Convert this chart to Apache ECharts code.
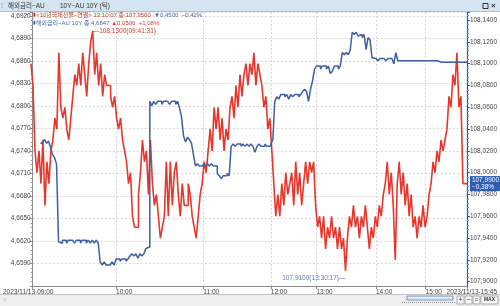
<!DOCTYPE html>
<html><head><meta charset="utf-8">
<script src="https://cdn.jsdelivr.net/npm/echarts@6/dist/echarts.min.js"></script>
<style>html,body{margin:0;padding:0;background:#fff}#c{width:500px;height:306px}</style>
</head><body><div id="c"></div>
<script>
// ---- data ----
const tickLabels = ['2023/11/13-09:00','10:00','11:00','12:00','13:00','14:00','15:00','2023/11/13-15:45'];
const tickIndex  = [0, 42, 86, 120, 143, 173, 198, 219];
// 10년국채선물-연결 (right axis)
const ktbFut = [
108.10,108.08,108.02,108.00,108.02,107.99,108.03,107.97,108.01,107.99,
108.02,108.03,108.05,108.04,108.11,108.06,108.05,108.06,108.04,108.03,
108.05,108.07,108.09,108.08,108.10,108.08,108.11,108.09,108.07,108.10,
108.12,108.13,108.09,108.11,108.08,108.10,108.07,108.09,108.08,108.08,
108.07,108.06,108.07,108.05,108.04,108.05,108.03,108.02,108.01,107.99,
108.00,107.96,107.95,107.95,107.98,108.00,108.03,108.01,108.02,107.98,
108.03,107.99,107.97,107.98,107.96,107.94,107.95,107.96,108.01,107.96,
108.01,107.97,108.00,108.01,107.98,107.96,107.99,107.97,107.97,107.99,
107.98,107.96,107.95,107.94,107.96,107.98,107.99,108.01,108.00,108.02,
108.04,108.02,108.06,108.04,108.06,108.03,108.05,108.02,108.04,108.03,
108.06,108.07,108.05,108.08,108.06,108.09,108.07,108.09,108.10,108.08,
108.10,108.09,108.11,108.08,108.10,108.09,108.08,108.06,108.07,108.04,
108.05,108.02,107.99,107.96,107.98,107.96,107.99,107.97,108.00,107.98,
107.99,108.00,107.97,108.01,107.98,108.00,107.97,107.99,108.01,107.99,
108.01,108.00,108.01,107.97,107.95,107.96,107.94,107.96,107.93,107.95,
107.94,107.96,107.94,107.95,107.93,107.95,107.93,107.94,107.91,107.94,
107.96,107.95,107.97,107.95,107.96,107.94,107.96,107.95,107.97,107.95,
107.93,107.95,107.94,107.96,107.95,107.97,107.96,107.98,107.99,108.01,
107.98,108.00,107.97,107.92,107.99,108.01,107.98,108.00,107.97,107.99,
107.96,107.98,107.95,107.96,107.94,107.96,107.95,107.97,107.95,107.96,
107.98,107.99,108.01,108.00,108.02,108.01,108.03,108.02,108.03,108.04,
108.07,108.06,108.09,108.08,108.11,108.06,108.07,107.99,107.99,107.99];
// 해외금리-AU 10Y (left axis)
const au10y = [
null,null,null,null,4.6749,4.6752,4.6755,4.6750,4.6753,4.6744,
4.6735,4.6731,4.6722,4.6619,4.6617,4.6621,4.6621,4.6617,4.6621,4.6621,
4.6621,4.6617,4.6621,4.6621,4.6617,4.6621,4.6621,4.6617,4.6621,4.6617,
4.6621,4.6617,4.6621,4.6617,4.6592,4.6588,4.6592,4.6588,4.6588,4.6588,
4.6592,4.6588,4.6596,4.6596,4.6593,4.6596,4.6596,4.6593,4.6596,4.6600,
4.6603,4.6600,4.6603,4.6597,4.6603,4.6600,4.6603,4.6610,4.6612,4.6806,
4.6800,4.6806,4.6802,4.6806,4.6806,4.6802,4.6806,4.6806,4.6806,4.6802,
4.6806,4.6806,4.6802,4.6806,4.6797,4.6785,4.6760,4.6752,4.6758,4.6755,
4.6750,4.6735,4.6720,4.6723,4.6720,4.6720,4.6723,4.6720,4.6723,4.6720,
4.6723,4.6720,4.6720,4.6710,4.6707,4.6703,4.6707,4.6707,4.6710,4.6707,
4.6746,4.6749,4.6746,4.6749,4.6749,4.6746,4.6749,4.6746,4.6749,4.6746,
4.6749,4.6746,4.6738,4.6746,4.6749,4.6746,4.6746,4.6749,4.6746,4.6746,
4.6749,4.6755,4.6806,4.6812,4.6809,4.6815,4.6815,4.6812,4.6815,4.6809,
4.6815,4.6812,4.6815,4.6815,4.6812,4.6815,4.6819,4.6822,4.6819,4.6806,
4.6822,4.6833,4.6849,4.6853,4.6853,4.6849,4.6853,4.6853,4.6849,4.6853,
4.6843,4.6846,4.6853,4.6853,4.6849,4.6853,4.6871,4.6868,4.6871,4.6868,
4.6874,4.6898,4.6895,4.6898,4.6893,4.6895,4.6891,4.6895,4.6875,4.6891,
4.6888,4.6864,4.6863,4.6863,4.6860,4.6863,4.6863,4.6863,4.6860,4.6863,
4.6863,4.6863,4.6856,4.6871,4.6860,4.6860,4.6860,4.6860,4.6860,4.6860,
4.6860,4.6860,4.6860,4.6860,4.6860,4.6860,4.6860,4.6860,4.6860,4.6860,
4.6860,4.6860,4.6860,4.6860,4.6860,4.6858,4.6858,4.6858,4.6858,4.6858,
4.6858,4.6858,4.6858,4.6858,4.6858,4.6858,4.6858,4.6858,4.6858,4.6858];
const maxNote = {idx: 31, value: 108.13, text: '108,1300(09:41:31)'};
const minNote = {idx: 158, value: 107.91, text: '107,9100(13:30:17)'};
const lastNote = {value: 107.99, text: '107,9900', chg: '−0,38%'};

// ---- chart ----
const FONT = "'Liberation Sans',Arial,sans-serif";
const KFONT = "'Liberation Sans','Noto Sans CJK KR',sans-serif";
const FS = 6.5;
const cats = ktbFut.map((_, i) => String(i));
const isTick = (i) => tickIndex.indexOf(i) >= 0;
const fmt4 = (v) => v.toFixed(4).replace('.', ',');
const RED = '#e8362c', BLUE = '#3c5fa6';
const gridC = '#d8d8d8';

const chart = echarts.init(document.getElementById('c'), null, {renderer: 'canvas'});
chart.setOption({
  animation: false,
  backgroundColor: '#fff',
  grid: [
    {left: 31, right: 31, top: 12, bottom: 20},
    {left: 31, right: 31, top: 12, bottom: 24.3}
  ],
  xAxis: [
    {type: 'category', gridIndex: 0, data: cats, boundaryGap: false,
     axisLine: {lineStyle: {color: '#8a8a8a'}},
     axisTick: {interval: (i) => isTick(i), length: 3, lineStyle: {color: '#8a8a8a'}},
     axisLabel: {interval: (i) => isTick(i), margin: 3, fontSize: FS, color: '#444', fontFamily: FONT,
                 align: 'left', alignMinLabel: 'center', alignMaxLabel: 'center',
                 formatter: (v) => {
                   const k = tickIndex.indexOf(+v);
                   if (k < 0) return '';
                   if (k === 0) return '{s|' + tickLabels[k] + '}';
                   if (k === tickLabels.length - 1) return '{e|' + tickLabels[k] + '}';
                   return tickLabels[k];
                 },
                 rich: {s: {fontSize: FS, color: '#444', fontFamily: FONT, padding: [0, 9, 0, 0]},
                        e: {fontSize: FS, color: '#444', fontFamily: FONT, padding: [0, 0, 0, 9]}}},
     splitLine: {show: true, interval: (i) => isTick(i) && i > 0 && i < cats.length - 1,
                 lineStyle: {color: gridC, type: [2, 2]}}},
    {type: 'category', gridIndex: 1, data: cats, boundaryGap: false, show: false}
  ],
  yAxis: [
    {type: 'value', gridIndex: 0, position: 'left', min: 4.656, max: 4.6925, interval: 0.003,
     axisLine: {show: true, lineStyle: {color: '#8a8a8a'}},
     axisTick: {show: true, length: 3, lineStyle: {color: '#8a8a8a'}},
     minorTick: {show: true, splitNumber: 5, length: 2, lineStyle: {color: '#9a9a9a'}},
     axisLabel: {fontSize: FS, color: '#444', margin: 2, fontFamily: FONT, showMinLabel: false, showMaxLabel: false,
                 formatter: fmt4},
     splitLine: {show: true, lineStyle: {color: gridC, type: [2, 2]}}},
    {type: 'value', gridIndex: 0, position: 'right', min: 0, max: 1,
     axisLine: {show: true, lineStyle: {color: '#2a56a8', width: 1.2}},
     axisTick: {show: false}, axisLabel: {show: false}, splitLine: {show: false}},
    {type: 'value', gridIndex: 1, position: 'right', min: 107.90, max: 108.1474, interval: 0.02,
     axisLine: {show: false},
     axisTick: {show: true, length: 3, lineStyle: {color: '#2a56a8'}},
     minorTick: {show: true, splitNumber: 5, length: 2, lineStyle: {color: '#6f8cc4'}},
     axisLabel: {fontSize: FS, color: '#444', margin: 3, fontFamily: FONT, showMaxLabel: false,
                 formatter: fmt4},
     splitLine: {show: false}}
  ],
  series: [
    {name: '10년국채선물-연결', type: 'line', xAxisIndex: 1, yAxisIndex: 2, data: ktbFut, step: 'end',
     showSymbol: false, z: 2, lineStyle: {color: RED, width: 1.6}, itemStyle: {color: RED},
     markPoint: {symbol: 'circle', symbolSize: 0, silent: true,
       data: [
         {coord: [String(maxNote.idx), maxNote.value],
          label: {show: true, position: 'right', distance: 0, formatter: '—' + maxNote.text,
                  fontSize: FS, color: '#d8382f', fontFamily: FONT}},
         {coord: [String(minNote.idx), minNote.value],
          label: {show: true, position: 'left', distance: 0, offset: [0, 7], formatter: minNote.text + '—',
                  fontSize: FS, color: '#5b78b2', fontFamily: FONT}},
         {coord: [String(ktbFut.length - 1), lastNote.value],
          label: {show: true, position: 'right', distance: 3, formatter: lastNote.text + '\n' + lastNote.chg,
                  fontSize: FS, lineHeight: 7, color: '#fff', backgroundColor: '#2e5cb0', padding: [1, 2, 0, 2],
                  fontFamily: FONT}}
       ]}},
    {name: '해외금리-AU 10Y', type: 'line', xAxisIndex: 0, yAxisIndex: 0, data: au10y, step: 'end',
     showSymbol: false, z: 3, lineStyle: {color: BLUE, width: 1.5}, itemStyle: {color: BLUE}}
  ],
  graphic: [
    {type: 'rect', shape: {x: 0, y: 0, width: 500, height: 11}, style: {fill: '#d5e4f1'}, z: 10},
    {type: 'line', shape: {x1: 0, y1: 11.5, x2: 500, y2: 11.5}, style: {stroke: '#a9c1d8', lineWidth: 1}, z: 10},
    {type: 'text', x: 1, y: 6, style: {text: '⁝', fontSize: 7, fill: '#777', verticalAlign: 'middle'}, z: 11},
    {type: 'text', x: 8, y: 6, style: {text: '해외금리−AU', font: '6.5px ' + KFONT, fill: '#333', verticalAlign: 'middle'}, z: 11},
    {type: 'text', x: 60, y: 6, style: {text: '10Y−AU 10Y (틱)', font: '6.5px ' + KFONT, fill: '#333', verticalAlign: 'middle'}, z: 11},
    {type: 'rect', shape: {x: 483, y: 3.5, width: 5, height: 5}, style: {fill: 'none', stroke: '#333', lineWidth: 1}, z: 11},
    {type: 'text', x: 491, y: 6, style: {text: '×', font: 'bold 8px ' + FONT, fill: '#333', verticalAlign: 'middle'}, z: 11},
    {type: 'text', x: 33, y: 15, style: {
      text: '{m|▮}{r|<10년국채선물−연결> 13:10:07 종:107,9500  }{b|▼0,4500  −0,42%}',
      verticalAlign: 'middle',
      rich: {m: {fontSize: 5, fill: '#c8302a'}, r: {font: '6px ' + KFONT, fill: '#c8402f'}, b: {font: '6px ' + FONT, fill: '#4a67a8'}}}, z: 11},
    {type: 'text', x: 33, y: 23, style: {
      text: '{m|▮}{r|해외금리−AU 10Y 종:4,6847 }{b|▲0,0500  +1,08%}',
      verticalAlign: 'middle',
      rich: {m: {fontSize: 5, fill: '#3c5fa6'}, r: {font: '6px ' + KFONT, fill: '#4a67a8'}, b: {font: '6px ' + FONT, fill: '#d8382f'}}}, z: 11},
    {type: 'line', shape: {x1: 0, y1: 294.5, x2: 500, y2: 294.5}, style: {stroke: '#c4c4c4', lineWidth: 1}, z: 10},
    {type: 'rect', shape: {x: 0, y: 295, width: 500, height: 11}, style: {fill: '#efefef'}, z: 10},
    {type: 'text', x: 3, y: 300, style: {text: '<', fontSize: 7, fill: '#bbb', verticalAlign: 'middle'}, z: 11},
    {type: 'line', shape: {x1: 402, y1: 302.5, x2: 455, y2: 302.5}, style: {stroke: '#999', lineWidth: 1, lineDash: [1, 1]}, z: 11},
    {type: 'rect', shape: {x: 407, y: 296, width: 46, height: 4}, style: {fill: '#dfe8f2', stroke: '#7a97c0', lineWidth: 1}, z: 11},
    {type: 'rect', shape: {x: 457, y: 296, width: 7, height: 8}, style: {fill: '#f8f8f8', stroke: '#aaa', lineWidth: 1}, z: 11},
    {type: 'text', x: 460.5, y: 300, style: {text: '+', fontSize: 7, fill: '#333', align: 'center', verticalAlign: 'middle'}, z: 12},
    {type: 'rect', shape: {x: 465, y: 296, width: 7, height: 8}, style: {fill: '#f8f8f8', stroke: '#aaa', lineWidth: 1}, z: 11},
    {type: 'text', x: 468.5, y: 300, style: {text: '−', fontSize: 7, fill: '#333', align: 'center', verticalAlign: 'middle'}, z: 12},
    {type: 'rect', shape: {x: 473, y: 296, width: 7, height: 8}, style: {fill: '#f8f8f8', stroke: '#aaa', lineWidth: 1}, z: 11},
    {type: 'text', x: 476.5, y: 300, style: {text: '=', fontSize: 7, fill: '#333', align: 'center', verticalAlign: 'middle'}, z: 12},
    {type: 'rect', shape: {x: 481, y: 296, width: 17, height: 8}, style: {fill: '#f8f8f8', stroke: '#aaa', lineWidth: 1}, z: 11},
    {type: 'text', x: 489.5, y: 300, style: {text: 'MAX', font: 'bold 5px ' + FONT, fill: '#333', align: 'center', verticalAlign: 'middle'}, z: 12}
  ]
});
</script>
</body></html>
